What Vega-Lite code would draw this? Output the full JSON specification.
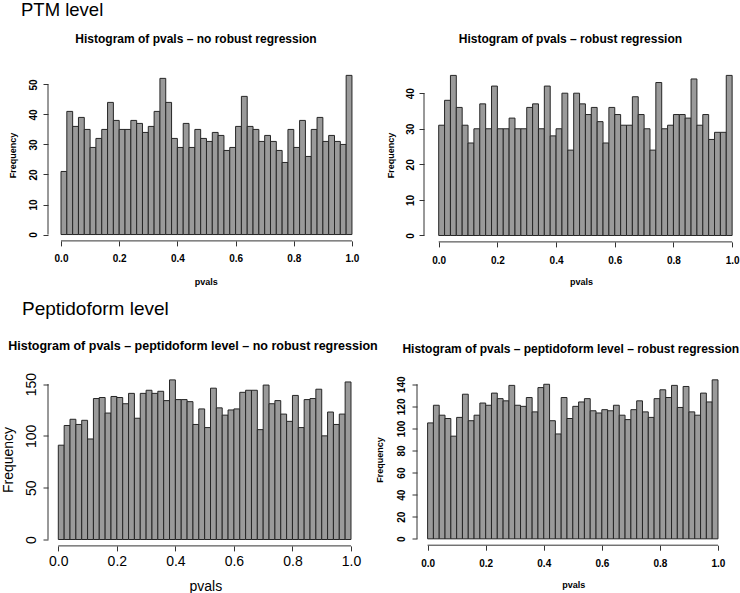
{
  "$schema": "https://vega.github.io/schema/vega-lite/v6.json",
  "padding": {"left": 1, "top": 1, "right": 0, "bottom": 0},
  "bounds": "flush",
  "spacing": 304.5,
  "background": "white",
  "config": {
    "font": "Liberation Sans",
    "view": {"stroke": null},
    "axis": {"grid": false, "domain": false, "tickColor": "#333333", "tickSize": 5, "tickWidth": 1, "labelColor": "#000000", "titleColor": "#000000", "labelFont": "Liberation Sans", "titleFont": "Liberation Sans", "labelOverlap": false},
    "title": {"font": "Liberation Sans", "color": "#000000"}
  },
  "datasets": {
    "p1": [
      {"lo":0.00,"hi":0.02,"n":21},{"lo":0.02,"hi":0.04,"n":41},{"lo":0.04,"hi":0.06,"n":36},{"lo":0.06,"hi":0.08,"n":39},{"lo":0.08,"hi":0.10,"n":35},
      {"lo":0.10,"hi":0.12,"n":29},{"lo":0.12,"hi":0.14,"n":32},{"lo":0.14,"hi":0.16,"n":35},{"lo":0.16,"hi":0.18,"n":44},{"lo":0.18,"hi":0.20,"n":38},
      {"lo":0.20,"hi":0.22,"n":35},{"lo":0.22,"hi":0.24,"n":35},{"lo":0.24,"hi":0.26,"n":38},{"lo":0.26,"hi":0.28,"n":37},{"lo":0.28,"hi":0.30,"n":34},
      {"lo":0.30,"hi":0.32,"n":36},{"lo":0.32,"hi":0.34,"n":41},{"lo":0.34,"hi":0.36,"n":52},{"lo":0.36,"hi":0.38,"n":44},{"lo":0.38,"hi":0.40,"n":32},
      {"lo":0.40,"hi":0.42,"n":29},{"lo":0.42,"hi":0.44,"n":37},{"lo":0.44,"hi":0.46,"n":29},{"lo":0.46,"hi":0.48,"n":35},{"lo":0.48,"hi":0.50,"n":32},
      {"lo":0.50,"hi":0.52,"n":31},{"lo":0.52,"hi":0.54,"n":34},{"lo":0.54,"hi":0.56,"n":33},{"lo":0.56,"hi":0.58,"n":28},{"lo":0.58,"hi":0.60,"n":29},
      {"lo":0.60,"hi":0.62,"n":36},{"lo":0.62,"hi":0.64,"n":46},{"lo":0.64,"hi":0.66,"n":36},{"lo":0.66,"hi":0.68,"n":35},{"lo":0.68,"hi":0.70,"n":31},
      {"lo":0.70,"hi":0.72,"n":33},{"lo":0.72,"hi":0.74,"n":31},{"lo":0.74,"hi":0.76,"n":28},{"lo":0.76,"hi":0.78,"n":24},{"lo":0.78,"hi":0.80,"n":35},
      {"lo":0.80,"hi":0.82,"n":29},{"lo":0.82,"hi":0.84,"n":38},{"lo":0.84,"hi":0.86,"n":26},{"lo":0.86,"hi":0.88,"n":35},{"lo":0.88,"hi":0.90,"n":39},
      {"lo":0.90,"hi":0.92,"n":31},{"lo":0.92,"hi":0.94,"n":33},{"lo":0.94,"hi":0.96,"n":31},{"lo":0.96,"hi":0.98,"n":30},{"lo":0.98,"hi":1.00,"n":53}
    ],
    "p2": [
      {"lo":0.00,"hi":0.02,"n":31},{"lo":0.02,"hi":0.04,"n":38},{"lo":0.04,"hi":0.06,"n":45},{"lo":0.06,"hi":0.08,"n":36},{"lo":0.08,"hi":0.10,"n":31},
      {"lo":0.10,"hi":0.12,"n":26},{"lo":0.12,"hi":0.14,"n":30},{"lo":0.14,"hi":0.16,"n":37},{"lo":0.16,"hi":0.18,"n":30},{"lo":0.18,"hi":0.20,"n":42},
      {"lo":0.20,"hi":0.22,"n":30},{"lo":0.22,"hi":0.24,"n":30},{"lo":0.24,"hi":0.26,"n":33},{"lo":0.26,"hi":0.28,"n":30},{"lo":0.28,"hi":0.30,"n":30},
      {"lo":0.30,"hi":0.32,"n":36},{"lo":0.32,"hi":0.34,"n":37},{"lo":0.34,"hi":0.36,"n":30},{"lo":0.36,"hi":0.38,"n":42},{"lo":0.38,"hi":0.40,"n":28},
      {"lo":0.40,"hi":0.42,"n":30},{"lo":0.42,"hi":0.44,"n":40},{"lo":0.44,"hi":0.46,"n":24},{"lo":0.46,"hi":0.48,"n":40},{"lo":0.48,"hi":0.50,"n":37},
      {"lo":0.50,"hi":0.52,"n":34},{"lo":0.52,"hi":0.54,"n":36},{"lo":0.54,"hi":0.56,"n":32},{"lo":0.56,"hi":0.58,"n":26},{"lo":0.58,"hi":0.60,"n":36},
      {"lo":0.60,"hi":0.62,"n":34},{"lo":0.62,"hi":0.64,"n":31},{"lo":0.64,"hi":0.66,"n":31},{"lo":0.66,"hi":0.68,"n":39},{"lo":0.68,"hi":0.70,"n":34},
      {"lo":0.70,"hi":0.72,"n":30},{"lo":0.72,"hi":0.74,"n":24},{"lo":0.74,"hi":0.76,"n":43},{"lo":0.76,"hi":0.78,"n":30},{"lo":0.78,"hi":0.80,"n":31},
      {"lo":0.80,"hi":0.82,"n":34},{"lo":0.82,"hi":0.84,"n":34},{"lo":0.84,"hi":0.86,"n":33},{"lo":0.86,"hi":0.88,"n":44},{"lo":0.88,"hi":0.90,"n":31},
      {"lo":0.90,"hi":0.92,"n":34},{"lo":0.92,"hi":0.94,"n":27},{"lo":0.94,"hi":0.96,"n":29},{"lo":0.96,"hi":0.98,"n":29},{"lo":0.98,"hi":1.00,"n":45}
    ],
    "p3": [
      {"lo":0.00,"hi":0.02,"n":91},{"lo":0.02,"hi":0.04,"n":110},{"lo":0.04,"hi":0.06,"n":116},{"lo":0.06,"hi":0.08,"n":111},{"lo":0.08,"hi":0.10,"n":115},
      {"lo":0.10,"hi":0.12,"n":97},{"lo":0.12,"hi":0.14,"n":136},{"lo":0.14,"hi":0.16,"n":137},{"lo":0.16,"hi":0.18,"n":122},{"lo":0.18,"hi":0.20,"n":138},
      {"lo":0.20,"hi":0.22,"n":137},{"lo":0.22,"hi":0.24,"n":131},{"lo":0.24,"hi":0.26,"n":141},{"lo":0.26,"hi":0.28,"n":117},{"lo":0.28,"hi":0.30,"n":141},
      {"lo":0.30,"hi":0.32,"n":144},{"lo":0.32,"hi":0.34,"n":141},{"lo":0.34,"hi":0.36,"n":143},{"lo":0.36,"hi":0.38,"n":134},{"lo":0.38,"hi":0.40,"n":154},
      {"lo":0.40,"hi":0.42,"n":135},{"lo":0.42,"hi":0.44,"n":135},{"lo":0.44,"hi":0.46,"n":133},{"lo":0.46,"hi":0.48,"n":111},{"lo":0.48,"hi":0.50,"n":126},
      {"lo":0.50,"hi":0.52,"n":108},{"lo":0.52,"hi":0.54,"n":146},{"lo":0.54,"hi":0.56,"n":127},{"lo":0.56,"hi":0.58,"n":120},{"lo":0.58,"hi":0.60,"n":125},
      {"lo":0.60,"hi":0.62,"n":126},{"lo":0.62,"hi":0.64,"n":142},{"lo":0.64,"hi":0.66,"n":144},{"lo":0.66,"hi":0.68,"n":144},{"lo":0.68,"hi":0.70,"n":106},
      {"lo":0.70,"hi":0.72,"n":149},{"lo":0.72,"hi":0.74,"n":131},{"lo":0.74,"hi":0.76,"n":134},{"lo":0.76,"hi":0.78,"n":121},{"lo":0.78,"hi":0.80,"n":114},
      {"lo":0.80,"hi":0.82,"n":139},{"lo":0.82,"hi":0.84,"n":108},{"lo":0.84,"hi":0.86,"n":135},{"lo":0.86,"hi":0.88,"n":136},{"lo":0.88,"hi":0.90,"n":145},
      {"lo":0.90,"hi":0.92,"n":100},{"lo":0.92,"hi":0.94,"n":123},{"lo":0.94,"hi":0.96,"n":111},{"lo":0.96,"hi":0.98,"n":121},{"lo":0.98,"hi":1.00,"n":152}
    ],
    "p4": [
      {"lo":0.00,"hi":0.02,"n":105},{"lo":0.02,"hi":0.04,"n":121},{"lo":0.04,"hi":0.06,"n":112},{"lo":0.06,"hi":0.08,"n":109},{"lo":0.08,"hi":0.10,"n":93},
      {"lo":0.10,"hi":0.12,"n":110},{"lo":0.12,"hi":0.14,"n":131},{"lo":0.14,"hi":0.16,"n":107},{"lo":0.16,"hi":0.18,"n":112},{"lo":0.18,"hi":0.20,"n":123},
      {"lo":0.20,"hi":0.22,"n":121},{"lo":0.22,"hi":0.24,"n":132},{"lo":0.24,"hi":0.26,"n":127},{"lo":0.26,"hi":0.28,"n":125},{"lo":0.28,"hi":0.30,"n":139},
      {"lo":0.30,"hi":0.32,"n":121},{"lo":0.32,"hi":0.34,"n":120},{"lo":0.34,"hi":0.36,"n":128},{"lo":0.36,"hi":0.38,"n":115},{"lo":0.38,"hi":0.40,"n":137},
      {"lo":0.40,"hi":0.42,"n":140},{"lo":0.42,"hi":0.44,"n":107},{"lo":0.44,"hi":0.46,"n":95},{"lo":0.46,"hi":0.48,"n":128},{"lo":0.48,"hi":0.50,"n":109},
      {"lo":0.50,"hi":0.52,"n":120},{"lo":0.52,"hi":0.54,"n":124},{"lo":0.54,"hi":0.56,"n":127},{"lo":0.56,"hi":0.58,"n":116},{"lo":0.58,"hi":0.60,"n":114},
      {"lo":0.60,"hi":0.62,"n":117},{"lo":0.62,"hi":0.64,"n":116},{"lo":0.64,"hi":0.66,"n":121},{"lo":0.66,"hi":0.68,"n":112},{"lo":0.68,"hi":0.70,"n":108},
      {"lo":0.70,"hi":0.72,"n":117},{"lo":0.72,"hi":0.74,"n":125},{"lo":0.74,"hi":0.76,"n":115},{"lo":0.76,"hi":0.78,"n":110},{"lo":0.78,"hi":0.80,"n":127},
      {"lo":0.80,"hi":0.82,"n":135},{"lo":0.82,"hi":0.84,"n":128},{"lo":0.84,"hi":0.86,"n":139},{"lo":0.86,"hi":0.88,"n":119},{"lo":0.88,"hi":0.90,"n":138},
      {"lo":0.90,"hi":0.92,"n":115},{"lo":0.92,"hi":0.94,"n":112},{"lo":0.94,"hi":0.96,"n":132},{"lo":0.96,"hi":0.98,"n":124},{"lo":0.98,"hi":1.00,"n":144}
    ],
    "one": [{"k": 1}]
  },
  "vconcat": [
    {
      "title": {"text": "PTM level", "anchor": "start", "frame": "group", "fontSize": 18.5, "fontWeight": "normal", "baseline": "alphabetic", "offset": -1.5, "dx": -27},
      "bounds": "flush",
      "spacing": 60,
      "hconcat": [
        {
          "width": 315.6, "height": 171.9,
          "title": {"text": "Histogram of pvals – no robust regression", "fontSize": 12, "fontWeight": "bold", "baseline": "alphabetic", "offset": 14, "dx": -9.8, "anchor": "middle", "frame": "group"},
          "layer": [
            {
              "data": {"name": "p1"},
              "mark": {"type": "bar", "fill": "#9a9a9a", "stroke": "#262626", "strokeWidth": 1},
              "encoding": {
                "x": {"field": "lo", "type": "quantitative", "scale": {"domain": [-0.0447, 1.04], "nice": false, "zero": false},
                  "axis": {"values": [0, 0.2, 0.4, 0.6, 0.8, 1.0], "format": ".1f", "title": "pvals", "labelFontSize": 10, "labelFontWeight": "bold", "labelBaseline": "alphabetic", "labelPadding": 15.7, "titleFontSize": 9, "titleFontWeight": "bold", "titleBaseline": "middle", "titleY": 40.3}},
                "x2": {"field": "hi"},
                "y": {"field": "n", "type": "quantitative", "scale": {"domain": [-2.12, 55.12], "nice": false, "zero": false},
                  "axis": {"values": [0, 10, 20, 30, 40, 50], "title": "Frequency", "labelAngle": 270, "labelAlign": "center", "labelBaseline": "alphabetic", "labelFontSize": 10, "labelFontWeight": "bold", "labelPadding": 6.4, "titleFontSize": 9, "titleFontWeight": "bold", "titleBaseline": "middle", "titleX": -36, "titleY": 86}},
                "y2": {"datum": 0}
              }
            },
            {"data": {"name": "one"}, "mark": {"type": "rule", "color": "#333333", "strokeWidth": 1}, "encoding": {"x": {"datum": 0, "axis": {"values": [0, 0.2, 0.4, 0.6, 0.8, 1.0]}}, "x2": {"datum": 1}, "y": {"datum": -2.12, "axis": {"values": [0, 10, 20, 30, 40, 50]}}}},
            {"data": {"name": "one"}, "mark": {"type": "rule", "color": "#333333", "strokeWidth": 1}, "encoding": {"x": {"datum": -0.0447, "axis": {"values": [0, 0.2, 0.4, 0.6, 0.8, 1.0]}}, "y": {"datum": 0, "axis": {"values": [0, 10, 20, 30, 40, 50]}}, "y2": {"datum": 50}}}
          ]
        },
        {
          "width": 314.0, "height": 172.9,
          "title": {"text": "Histogram of pvals – robust regression", "fontSize": 12, "fontWeight": "bold", "baseline": "alphabetic", "offset": 14, "dx": -10.6, "anchor": "middle", "frame": "group"},
          "layer": [
            {
              "data": {"name": "p2"},
              "mark": {"type": "bar", "fill": "#9a9a9a", "stroke": "#262626", "strokeWidth": 1},
              "encoding": {
                "x": {"field": "lo", "type": "quantitative", "scale": {"domain": [-0.0501, 1.02], "nice": false, "zero": false},
                  "axis": {"values": [0, 0.2, 0.4, 0.6, 0.8, 1.0], "format": ".1f", "title": "pvals", "labelFontSize": 10, "labelFontWeight": "bold", "labelBaseline": "alphabetic", "labelPadding": 16.2, "titleFontSize": 9, "titleFontWeight": "bold", "titleBaseline": "middle", "titleY": 39.3}},
                "x2": {"field": "hi"},
                "y": {"field": "n", "type": "quantitative", "scale": {"domain": [-1.8, 46.8], "nice": false, "zero": false},
                  "axis": {"values": [0, 10, 20, 30, 40], "title": "Frequency", "labelAngle": 270, "labelAlign": "center", "labelBaseline": "alphabetic", "labelFontSize": 10, "labelFontWeight": "bold", "labelPadding": 5.7, "titleFontSize": 9, "titleFontWeight": "bold", "titleBaseline": "middle", "titleX": -33.6, "titleY": 86}},
                "y2": {"datum": 0}
              }
            },
            {"data": {"name": "one"}, "mark": {"type": "rule", "color": "#333333", "strokeWidth": 1}, "encoding": {"x": {"datum": 0, "axis": {"values": [0, 0.2, 0.4, 0.6, 0.8, 1.0]}}, "x2": {"datum": 1}, "y": {"datum": -1.8, "axis": {"values": [0, 10, 20, 30, 40]}}}},
            {"data": {"name": "one"}, "mark": {"type": "rule", "color": "#333333", "strokeWidth": 1}, "encoding": {"x": {"datum": -0.0501, "axis": {"values": [0, 0.2, 0.4, 0.6, 0.8, 1.0]}}, "y": {"datum": 0, "axis": {"values": [0, 10, 20, 30, 40]}}, "y2": {"datum": 40}}}
          ]
        }
      ]
    },
    {
      "title": {"text": "Peptidoform level", "anchor": "start", "frame": "group", "fontSize": 19, "fontWeight": "normal", "baseline": "alphabetic", "offset": 6, "dx": -26},
      "bounds": "flush",
      "spacing": 54,
      "hconcat": [
        {
          "width": 314.7, "height": 172.4,
          "title": {"text": "Histogram of pvals – peptidoform level – no robust regression", "fontSize": 12.5, "fontWeight": "bold", "baseline": "alphabetic", "offset": 9.5, "dx": -12.4, "anchor": "middle", "frame": "group"},
          "layer": [
            {
              "data": {"name": "p3"},
              "mark": {"type": "bar", "fill": "#9a9a9a", "stroke": "#262626", "strokeWidth": 1},
              "encoding": {
                "x": {"field": "lo", "type": "quantitative", "scale": {"domain": [-0.0352, 1.04], "nice": false, "zero": false},
                  "axis": {"values": [0, 0.2, 0.4, 0.6, 0.8, 1.0], "format": ".1f", "title": "pvals", "labelFontSize": 14, "labelBaseline": "alphabetic", "labelPadding": 14.6, "titleFontSize": 14, "titleFontWeight": "normal", "titleBaseline": "middle", "titleY": 40.6}},
                "x2": {"field": "hi"},
                "y": {"field": "n", "type": "quantitative", "scale": {"domain": [-6.16, 160.16], "nice": false, "zero": false},
                  "axis": {"values": [0, 50, 100, 150], "title": "Frequency", "labelAngle": 270, "labelAlign": "center", "labelBaseline": "alphabetic", "labelFontSize": 14, "labelPadding": 8, "titleFontSize": 14, "titleFontWeight": "normal", "titleBaseline": "middle", "titleX": -40, "titleY": 86}},
                "y2": {"datum": 0}
              }
            },
            {"data": {"name": "one"}, "mark": {"type": "rule", "color": "#333333", "strokeWidth": 1}, "encoding": {"x": {"datum": 0, "axis": {"values": [0, 0.2, 0.4, 0.6, 0.8, 1.0]}}, "x2": {"datum": 1}, "y": {"datum": -6.16, "axis": {"values": [0, 50, 100, 150]}}}},
            {"data": {"name": "one"}, "mark": {"type": "rule", "color": "#333333", "strokeWidth": 1}, "encoding": {"x": {"datum": -0.0352, "axis": {"values": [0, 0.2, 0.4, 0.6, 0.8, 1.0]}}, "y": {"datum": 0, "axis": {"values": [0, 50, 100, 150]}}, "y2": {"datum": 150}}}
          ]
        },
        {
          "width": 312.6, "height": 171.7,
          "title": {"text": "Histogram of pvals – peptidoform level – robust regression", "fontSize": 12, "fontWeight": "bold", "baseline": "alphabetic", "offset": 8.8, "dx": -2.5, "anchor": "middle", "frame": "group"},
          "layer": [
            {
              "data": {"name": "p4"},
              "mark": {"type": "bar", "fill": "#9a9a9a", "stroke": "#262626", "strokeWidth": 1},
              "encoding": {
                "x": {"field": "lo", "type": "quantitative", "scale": {"domain": [-0.0365, 1.04], "nice": false, "zero": false},
                  "axis": {"values": [0, 0.2, 0.4, 0.6, 0.8, 1.0], "format": ".1f", "title": "pvals", "labelFontSize": 10, "labelFontWeight": "bold", "labelBaseline": "alphabetic", "labelPadding": 16.2, "titleFontSize": 9, "titleFontWeight": "bold", "titleBaseline": "middle", "titleY": 39.3}},
                "x2": {"field": "hi"},
                "y": {"field": "n", "type": "quantitative", "scale": {"domain": [-5.76, 149.76], "nice": false, "zero": false},
                  "axis": {"values": [0, 20, 40, 60, 80, 100, 120, 140], "title": "Frequency", "labelAngle": 270, "labelAlign": "center", "labelBaseline": "alphabetic", "labelFontSize": 10, "labelFontWeight": "bold", "labelPadding": 7.4, "titleFontSize": 9, "titleFontWeight": "bold", "titleBaseline": "middle", "titleX": -37.4, "titleY": 86}},
                "y2": {"datum": 0}
              }
            },
            {"data": {"name": "one"}, "mark": {"type": "rule", "color": "#333333", "strokeWidth": 1}, "encoding": {"x": {"datum": 0, "axis": {"values": [0, 0.2, 0.4, 0.6, 0.8, 1.0]}}, "x2": {"datum": 1}, "y": {"datum": -5.76, "axis": {"values": [0, 20, 40, 60, 80, 100, 120, 140]}}}},
            {"data": {"name": "one"}, "mark": {"type": "rule", "color": "#333333", "strokeWidth": 1}, "encoding": {"x": {"datum": -0.0365, "axis": {"values": [0, 0.2, 0.4, 0.6, 0.8, 1.0]}}, "y": {"datum": 0, "axis": {"values": [0, 20, 40, 60, 80, 100, 120, 140]}}, "y2": {"datum": 140}}}
          ]
        }
      ]
    }
  ]
}
